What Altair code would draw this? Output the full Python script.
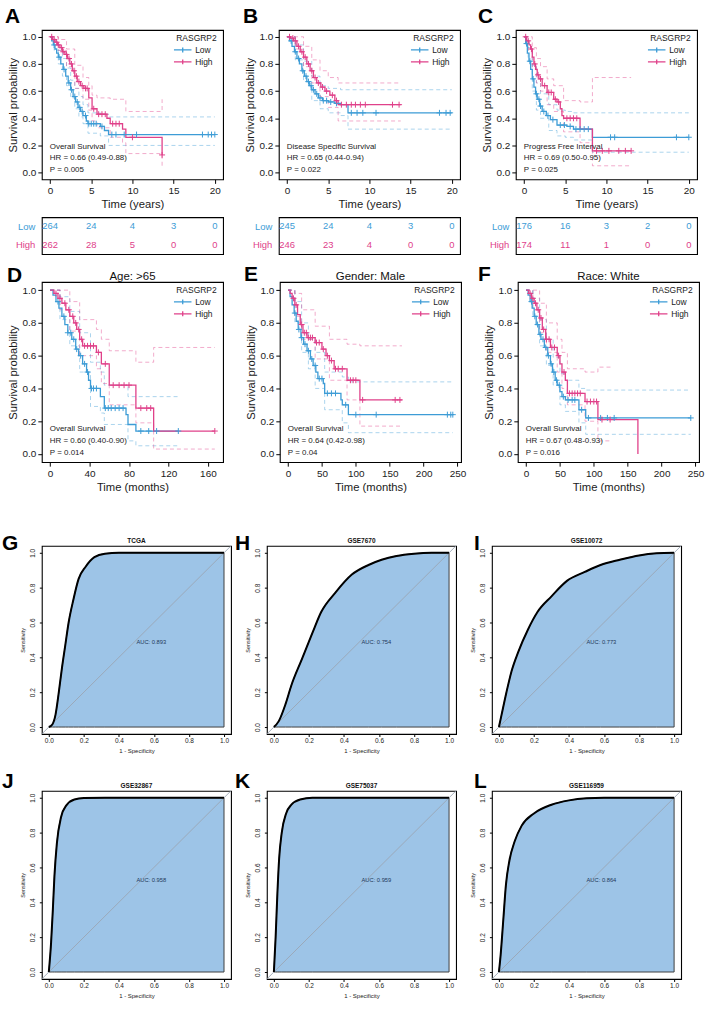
import altair as alt
import pandas as pd

FONT = "Liberation Sans"
LOW_COLOR = "#3D9CD6"
HIGH_COLOR = "#E0418A"
ROC_FILL = "#9DC4E7"
GROUPS = ["Low", "High"]
SURV_TICKS = [0.0, 0.2, 0.4, 0.6, 0.8, 1.0]
ROC_TICKS = [0.0, 0.2, 0.4, 0.6, 0.8, 1.0]
DIAG = [-0.04, 1.04]

# ---------------- Panel A : Overall Survival (years) ----------------
A_LOW = [(0, 1.0), (0.2, 0.97), (0.4, 0.94), (0.6, 0.91), (0.8, 0.88), (1.0, 0.85), (1.3, 0.80),
         (1.6, 0.76), (1.9, 0.71), (2.2, 0.66), (2.5, 0.61), (2.8, 0.56), (3.1, 0.52), (3.4, 0.48),
         (3.7, 0.45), (4.0, 0.42), (4.4, 0.38), (4.6, 0.36), (6.1, 0.34), (6.6, 0.31), (7.1, 0.28),
         (20.0, 0.28)]
A_HIGH = [(0, 1.0), (0.3, 0.98), (0.6, 0.96), (0.9, 0.94), (1.2, 0.92), (1.5, 0.89), (1.8, 0.87),
          (2.1, 0.84), (2.4, 0.80), (2.7, 0.75), (3.0, 0.71), (3.3, 0.67), (3.7, 0.64), (4.1, 0.62),
          (4.7, 0.55), (5.1, 0.47), (5.7, 0.43), (6.9, 0.40), (7.3, 0.36), (8.8, 0.32), (9.2, 0.26),
          (13.6, 0.13)]
A_LOW_CENS = [0.5, 1.1, 1.7, 2.3, 2.6, 3.0, 3.3, 3.6, 3.9, 4.3, 4.7, 5.0, 5.3, 5.6, 6.3, 7.5, 8.0,
              9.0, 10.5, 18.5, 19.2, 19.6, 20.0]
A_HIGH_CENS = [0.2, 0.5, 0.8, 1.0, 1.4, 1.6, 2.0, 2.3, 2.6, 2.9, 3.2, 3.5, 3.9, 4.3, 4.5, 5.3, 5.9,
               6.3, 6.7, 7.6, 8.0, 8.4, 10.0, 13.6]
A_LOW_UP = [(0, 1.0), (0.5, 0.97), (1, 0.90), (1.5, 0.84), (2, 0.77), (2.5, 0.68), (3, 0.62),
            (3.5, 0.56), (4, 0.50), (4.6, 0.44), (6.1, 0.43), (7.1, 0.41), (20, 0.41)]
A_LOW_LO = [(0, 1.0), (0.5, 0.90), (1, 0.80), (1.5, 0.71), (2, 0.64), (2.5, 0.55), (3, 0.47),
            (3.5, 0.41), (4, 0.36), (4.6, 0.29), (6.1, 0.27), (7.1, 0.20), (20, 0.20)]
A_HIGH_UP = [(0, 1.0), (1, 0.98), (2, 0.91), (3, 0.79), (4, 0.70), (4.7, 0.64), (5.1, 0.57),
             (5.7, 0.55), (7.3, 0.54), (9.2, 0.45), (13.6, 0.54)]
A_HIGH_LO = [(0, 1.0), (1, 0.90), (2, 0.78), (3, 0.62), (4, 0.54), (4.7, 0.46), (5.1, 0.38),
             (5.7, 0.33), (7.3, 0.26), (8.8, 0.22), (9.2, 0.14), (13.6, 0.03)]
A_RISK_LOW = [264, 24, 4, 3, 0]
A_RISK_HIGH = [262, 28, 5, 0, 0]
A_TEXT = ["Overall Survival", "HR = 0.66 (0.49-0.88)", "P = 0.005"]

# ---------------- Panel B : Disease Specific Survival (years) ----------------
B_LOW = [(0, 1.0), (0.3, 0.97), (0.6, 0.93), (0.9, 0.89), (1.2, 0.84), (1.5, 0.80), (1.8, 0.75),
         (2.1, 0.71), (2.4, 0.67), (2.7, 0.64), (3.0, 0.61), (3.4, 0.58), (3.8, 0.55), (4.3, 0.53),
         (5.0, 0.52), (5.8, 0.51), (6.5, 0.50), (7.4, 0.44), (20.0, 0.44)]
B_HIGH = [(0, 1.0), (0.4, 0.99), (0.8, 0.97), (1.2, 0.93), (1.6, 0.89), (2.0, 0.85), (2.4, 0.80),
          (2.8, 0.75), (3.2, 0.70), (3.6, 0.66), (4.1, 0.63), (4.6, 0.60), (5.2, 0.57), (5.8, 0.53),
          (6.2, 0.50), (13.8, 0.50)]
B_LOW_CENS = [0.5, 1.0, 1.4, 1.9, 2.3, 2.6, 2.9, 3.2, 3.6, 4.0, 4.4, 4.8, 5.3, 6.0, 7.8, 8.5, 9.2,
              10.8, 18.5, 19.3, 19.8]
B_HIGH_CENS = [0.3, 0.7, 1.0, 1.4, 1.8, 2.2, 2.6, 3.0, 3.4, 3.8, 4.3, 4.8, 5.5, 6.0, 6.6, 7.2, 7.8,
               8.3, 8.9, 9.5, 12.8, 13.6]
B_LOW_UP = [(0, 1.0), (1, 0.94), (2, 0.82), (3, 0.71), (4, 0.64), (5, 0.62), (6.5, 0.61), (20, 0.61)]
B_LOW_LO = [(0, 1.0), (1, 0.83), (2, 0.67), (3, 0.53), (4, 0.47), (5, 0.44), (6.5, 0.42),
            (7.4, 0.32), (20, 0.32)]
B_HIGH_UP = [(0, 1.0), (1, 1.0), (2, 0.93), (3, 0.83), (4, 0.75), (5, 0.70), (6.2, 0.66), (13.8, 0.66)]
B_HIGH_LO = [(0, 1.0), (1, 0.91), (2, 0.78), (3, 0.66), (4, 0.56), (5, 0.48), (6.2, 0.38), (13.8, 0.38)]
B_RISK_LOW = [245, 24, 4, 3, 0]
B_RISK_HIGH = [246, 23, 4, 0, 0]
B_TEXT = ["Disease Specific Survival", "HR = 0.65 (0.44-0.94)", "P = 0.022"]

# ---------------- Panel C : Progress Free Interval (years) ----------------
C_LOW = [(0, 1.0), (0.2, 0.95), (0.4, 0.88), (0.6, 0.82), (0.8, 0.76), (1.0, 0.69), (1.2, 0.63),
         (1.4, 0.58), (1.6, 0.54), (1.9, 0.49), (2.2, 0.45), (2.7, 0.42), (3.2, 0.39), (4.0, 0.35),
         (5.2, 0.34), (6.0, 0.32), (8.3, 0.26), (20.0, 0.26)]
C_HIGH = [(0, 1.0), (0.3, 0.97), (0.6, 0.94), (0.8, 0.91), (1.0, 0.85), (1.2, 0.80), (1.4, 0.76),
          (1.6, 0.72), (1.8, 0.69), (2.2, 0.64), (2.8, 0.59), (3.6, 0.54), (4.0, 0.52), (4.4, 0.47),
          (4.6, 0.42), (4.8, 0.40), (6.8, 0.32), (8.3, 0.16), (13.0, 0.16)]
C_LOW_CENS = [0.3, 0.7, 1.1, 1.5, 1.8, 2.0, 2.4, 2.9, 3.5, 4.4, 4.9, 5.6, 6.3, 6.8, 7.3, 7.8, 10.5,
              11.0, 18.5, 20.0]
C_HIGH_CENS = [0.2, 0.5, 0.9, 1.3, 1.7, 2.0, 2.5, 3.0, 3.3, 3.8, 4.2, 5.2, 5.6, 6.0, 6.4, 8.8, 9.5,
               10.3, 11.5, 12.3, 13.0]
C_LOW_UP = [(0, 1.0), (0.5, 0.92), (1, 0.79), (1.5, 0.66), (2, 0.58), (3, 0.50), (4, 0.46),
            (5, 0.45), (6, 0.44), (20, 0.44)]
C_LOW_LO = [(0, 1.0), (0.5, 0.82), (1, 0.60), (1.5, 0.46), (2, 0.40), (3, 0.31), (4, 0.27),
            (5, 0.26), (6, 0.24), (8.3, 0.15), (20, 0.15)]
C_HIGH_UP = [(0, 1.0), (0.5, 1.0), (1, 0.92), (1.5, 0.84), (2, 0.78), (2.8, 0.69), (3.6, 0.64),
             (4.8, 0.53), (6.8, 0.52), (8.3, 0.70), (13, 0.70)]
C_HIGH_LO = [(0, 1.0), (0.5, 0.90), (1, 0.78), (1.5, 0.66), (2, 0.60), (2.8, 0.50), (3.6, 0.45),
             (4.8, 0.30), (6.8, 0.22), (8.3, 0.05), (13, 0.05)]
C_RISK_LOW = [176, 16, 3, 2, 0]
C_RISK_HIGH = [174, 11, 1, 0, 0]
C_TEXT = ["Progress Free Interval", "HR = 0.69 (0.50-0.95)", "P = 0.025"]

RISK_TIMES = [0, 5, 10, 15, 20]

# ---------------- Panel D : Age > 65 (months) ----------------
D_LOW = [(0, 1.0), (3, 0.97), (6, 0.93), (9, 0.89), (12, 0.84), (15, 0.79), (18, 0.74), (22, 0.70),
         (26, 0.64), (29, 0.60), (33, 0.55), (37, 0.50), (39, 0.45), (41, 0.40), (51, 0.35),
         (55, 0.28), (77, 0.24), (79, 0.18), (87, 0.14), (130, 0.14)]
D_HIGH = [(0, 1.0), (4, 0.98), (8, 0.95), (12, 0.92), (16, 0.88), (20, 0.84), (24, 0.80),
          (27, 0.76), (30, 0.70), (33, 0.66), (47, 0.62), (52, 0.55), (60, 0.42), (87, 0.28),
          (105, 0.14), (167, 0.14)]
D_LOW_CENS = [8, 14, 18, 21, 24, 27, 31, 35, 38, 42, 44, 47, 56, 59, 62, 66, 70, 74, 92, 100, 108, 130]
D_HIGH_CENS = [6, 10, 15, 19, 23, 26, 29, 32, 35, 38, 41, 44, 49, 56, 64, 70, 75, 80, 92, 98, 102, 167]
D_LOW_UP = [(0, 1.0), (10, 0.96), (20, 0.87), (30, 0.74), (41, 0.56), (51, 0.50), (55, 0.42),
            (79, 0.35), (130, 0.35)]
D_LOW_LO = [(0, 1.0), (10, 0.82), (20, 0.66), (30, 0.50), (41, 0.29), (51, 0.25), (55, 0.18),
            (79, 0.08), (87, 0.05), (130, 0.05)]
D_HIGH_UP = [(0, 1.0), (10, 1.0), (20, 0.93), (30, 0.82), (47, 0.76), (52, 0.70), (60, 0.63),
             (87, 0.56), (105, 0.65), (167, 0.65)]
D_HIGH_LO = [(0, 1.0), (10, 0.88), (20, 0.75), (30, 0.60), (47, 0.52), (52, 0.43), (60, 0.30),
             (87, 0.19), (105, 0.03), (167, 0.03)]
D_TEXT = ["Overall Survival", "HR = 0.60 (0.40-0.90)", "P = 0.014"]

# ---------------- Panel E : Gender Male (months) ----------------
E_LOW = [(0, 1.0), (3, 0.96), (6, 0.91), (9, 0.86), (12, 0.81), (15, 0.76), (19, 0.71), (23, 0.67),
         (28, 0.63), (33, 0.58), (37, 0.54), (41, 0.50), (44, 0.46), (52, 0.43), (54, 0.37),
         (78, 0.33), (80, 0.30), (89, 0.24), (243, 0.24)]
E_HIGH = [(0, 1.0), (3, 0.98), (6, 0.95), (10, 0.91), (14, 0.85), (18, 0.79), (22, 0.74),
          (28, 0.71), (40, 0.68), (50, 0.64), (56, 0.60), (61, 0.57), (68, 0.52), (87, 0.45),
          (106, 0.33), (168, 0.33)]
E_LOW_CENS = [10, 16, 20, 25, 30, 35, 40, 46, 50, 58, 64, 70, 85, 100, 130, 235, 240, 243]
E_HIGH_CENS = [8, 12, 20, 24, 27, 30, 33, 36, 42, 46, 52, 58, 64, 70, 74, 80, 92, 96, 100, 110, 158, 165]
E_LOW_UP = [(0, 1.0), (10, 0.93), (20, 0.80), (30, 0.70), (40, 0.62), (54, 0.50), (80, 0.47),
            (89, 0.44), (243, 0.44)]
E_LOW_LO = [(0, 1.0), (10, 0.80), (20, 0.62), (30, 0.52), (40, 0.40), (54, 0.27), (80, 0.19),
            (89, 0.13), (243, 0.13)]
E_HIGH_UP = [(0, 1.0), (10, 0.98), (20, 0.88), (40, 0.78), (61, 0.70), (87, 0.67), (106, 0.66),
             (168, 0.66)]
E_HIGH_LO = [(0, 1.0), (10, 0.84), (20, 0.70), (40, 0.58), (61, 0.45), (87, 0.33), (106, 0.17),
             (168, 0.17)]
E_TEXT = ["Overall Survival", "HR = 0.64 (0.42-0.98)", "P = 0.04"]

# ---------------- Panel F : Race White (months) ----------------
F_LOW = [(0, 1.0), (3, 0.97), (6, 0.93), (9, 0.89), (12, 0.84), (15, 0.79), (19, 0.73), (22, 0.70),
         (27, 0.65), (32, 0.60), (36, 0.55), (39, 0.50), (43, 0.45), (46, 0.42), (50, 0.38),
         (53, 0.35), (58, 0.33), (78, 0.27), (88, 0.22), (243, 0.22)]
F_HIGH = [(0, 1.0), (4, 0.98), (8, 0.95), (12, 0.92), (16, 0.88), (20, 0.83), (24, 0.76),
          (29, 0.70), (36, 0.65), (46, 0.60), (50, 0.55), (53, 0.50), (58, 0.45), (61, 0.37),
          (87, 0.32), (106, 0.21), (165, 0.0)]
F_LOW_CENS = [8, 13, 17, 21, 25, 29, 33, 37, 41, 45, 49, 55, 62, 68, 72, 82, 92, 110, 120, 130, 243]
F_HIGH_CENS = [6, 10, 14, 18, 22, 26, 30, 34, 38, 42, 48, 56, 64, 68, 72, 76, 80, 90, 95, 100, 104,
               112, 124]
F_LOW_UP = [(0, 1.0), (10, 0.95), (20, 0.82), (30, 0.70), (40, 0.59), (50, 0.49), (58, 0.45),
            (78, 0.40), (88, 0.39), (243, 0.39)]
F_LOW_LO = [(0, 1.0), (10, 0.84), (20, 0.66), (30, 0.54), (40, 0.42), (50, 0.30), (58, 0.26),
            (78, 0.19), (88, 0.12), (243, 0.12)]
F_HIGH_UP = [(0, 1.0), (10, 1.0), (20, 0.92), (30, 0.80), (46, 0.70), (53, 0.62), (61, 0.52),
             (87, 0.50), (106, 0.53), (125, 0.53)]
F_HIGH_LO = [(0, 1.0), (10, 0.88), (20, 0.74), (30, 0.62), (46, 0.50), (53, 0.40), (61, 0.30),
             (87, 0.20), (106, 0.08), (125, 0.08)]
F_TEXT = ["Overall Survival", "HR = 0.67 (0.48-0.93)", "P = 0.016"]

# ---------------- ROC curves (1 - specificity, sensitivity) ----------------
G_PTS = [(0, 0), (0.02, 0.015), (0.038, 0.07), (0.057, 0.2), (0.075, 0.34), (0.094, 0.47),
         (0.113, 0.6), (0.14, 0.73), (0.17, 0.85), (0.21, 0.92), (0.26, 0.975), (0.32, 0.995),
         (0.4, 1.0), (1.0, 1.0)]
H_PTS = [(0, 0), (0.028, 0.034), (0.066, 0.13), (0.10, 0.24), (0.16, 0.39), (0.22, 0.54),
         (0.27, 0.66), (0.35, 0.77), (0.445, 0.875), (0.54, 0.93), (0.615, 0.96), (0.7, 0.982),
         (0.8, 0.995), (0.9, 1.0), (1.0, 1.0)]
I_PTS = [(0, 0), (0.015, 0.07), (0.043, 0.2), (0.072, 0.32), (0.11, 0.43), (0.166, 0.56),
         (0.22, 0.66), (0.3, 0.75), (0.39, 0.84), (0.49, 0.89), (0.58, 0.93), (0.69, 0.96),
         (0.8, 0.985), (0.9, 0.997), (1.0, 1.0)]
J_PTS = [(0, 0), (0.013, 0.17), (0.023, 0.36), (0.032, 0.55), (0.046, 0.74), (0.07, 0.89),
         (0.1, 0.956), (0.146, 0.99), (0.2, 0.998), (0.32, 1.0), (1.0, 1.0)]
K_PTS = [(0, 0), (0.01, 0.2), (0.02, 0.45), (0.03, 0.65), (0.045, 0.8), (0.07, 0.91), (0.1, 0.96),
         (0.15, 0.99), (0.22, 1.0), (1.0, 1.0)]
L_PTS = [(0, 0), (0.01, 0.1), (0.025, 0.3), (0.04, 0.5), (0.06, 0.64), (0.09, 0.75), (0.13, 0.84),
         (0.2, 0.91), (0.3, 0.96), (0.4, 0.985), (0.5, 0.997), (0.6, 1.0), (1.0, 1.0)]
ROC_TITLES = ["TCGA", "GSE7670", "GSE10072", "GSE32867", "GSE75037", "GSE116959"]
ROC_AUC = ["0.893", "0.754", "0.773", "0.958", "0.959", "0.864"]


def step_value(curve, t):
    s = curve[0][1]
    for tt, ss in curve:
        if tt <= t:
            s = ss
        else:
            break
    return s


COLOR_SCALE = alt.Scale(domain=GROUPS, range=[LOW_COLOR, HIGH_COLOR])


def label_layer(text, x, y, size, weight="bold", align="left", color="black"):
    return alt.Chart(pd.DataFrame({"k": [0]})).mark_text(
        text=text, align=align, baseline="alphabetic", fontSize=size, fontWeight=weight,
        color=color).encode(x=alt.value(x), y=alt.value(y))


def km_chart(low, high, lcens, hcens, cis, text, letter, lpos, xdom, xticks, xtitle, height,
             title=None, width=182):
    xs = alt.Scale(domain=xdom, nice=False, zero=False)
    ys = alt.Scale(domain=[-0.05, 1.05], nice=False, zero=False)
    X = alt.X("t:Q", scale=xs, axis=alt.Axis(values=xticks, title=xtitle, labelFontSize=10,
                                              titleFontSize=11.3, tickSize=4, labelPadding=2,
                                              titlePadding=3))
    Y = alt.Y("s:Q", scale=ys, axis=alt.Axis(values=SURV_TICKS, format=".1f",
                                              title="Survival probability", labelFontSize=10,
                                              titleFontSize=11.3, tickSize=4, labelPadding=2,
                                              titlePadding=4))
    curves = pd.DataFrame([{"t": t, "s": s, "grp": "Low"} for t, s in low] +
                          [{"t": t, "s": s, "grp": "High"} for t, s in high])
    ci_rows = []
    for (grp, band), pts in zip([("Low", "up"), ("Low", "lo"), ("High", "up"), ("High", "lo")], cis):
        ci_rows += [{"t": t, "s": s, "grp": grp, "band": band} for t, s in pts]
    ci = pd.DataFrame(ci_rows)
    cens = pd.DataFrame([{"t": t, "s": step_value(low, t), "grp": "Low"} for t in lcens] +
                        [{"t": t, "s": step_value(high, t), "grp": "High"} for t in hcens])

    ci_layer = alt.Chart(ci).mark_line(interpolate="step-after", strokeDash=[4, 3],
                                       strokeWidth=0.8, opacity=0.55).encode(
        x=X, y=Y, color=alt.Color("grp:N", scale=COLOR_SCALE, legend=None), detail="band:N")
    line_layer = alt.Chart(curves).mark_line(interpolate="step-after", strokeWidth=1.3).encode(
        x=X, y=Y,
        color=alt.Color("grp:N", scale=COLOR_SCALE, sort=GROUPS,
                        legend=alt.Legend(title="RASGRP2", orient="none", legendX=width - 47,
                                          legendY=4, titleFontSize=8.5, titleFontWeight="normal",
                                          labelFontSize=8.5, symbolType="M-1.6,0H1.6M0,-0.45V0.45",
                                          symbolSize=121, symbolStrokeWidth=1.3,
                                          symbolFillColor="transparent", labelOffset=6,
                                          rowPadding=0, titlePadding=1, padding=0,
                                          titleColor="#222", labelColor="#222")))
    cens_layer = alt.Chart(cens).mark_point(shape="M-1,0H1M0,-1V1", size=36, strokeWidth=1,
                                            filled=False, opacity=1).encode(
        x=X, y=Y, color=alt.Color("grp:N", scale=COLOR_SCALE, legend=None))
    ann = alt.Chart(pd.DataFrame({"k": [0]})).mark_text(
        text=text, align="left", baseline="top", fontSize=8, lineHeight=11.8, color="#222").encode(
        x=alt.value(8), y=alt.value(height - 37))
    layers = [ci_layer, line_layer, cens_layer, ann,
              label_layer(letter, lpos[0], lpos[1], 21)]
    if title:
        layers.append(label_layer(title, width / 2, -2, 11.5, weight="normal", align="center",
                                  color="#111"))
    return alt.layer(*layers).resolve_legend(color="independent").properties(width=width,
                                                                              height=height)


def risk_chart(low_counts, high_counts, xdom, width=182):
    xs = alt.Scale(domain=xdom, nice=False, zero=False)
    df = pd.DataFrame([{"t": t, "grp": "Low", "n": n} for t, n in zip(RISK_TIMES, low_counts)] +
                      [{"t": t, "grp": "High", "n": n} for t, n in zip(RISK_TIMES, high_counts)])
    return alt.Chart(df).mark_text(fontSize=9.5).encode(
        x=alt.X("t:Q", scale=xs, axis=None),
        y=alt.Y("grp:N", sort=GROUPS, scale=alt.Scale(domain=GROUPS),
                axis=alt.Axis(title=None, ticks=False, domain=False, labelFontSize=9.5,
                              labelPadding=7,
                              labelColor={"expr": f"datum.value === 'Low' ? '{LOW_COLOR}' : '{HIGH_COLOR}'"})),
        text="n:Q",
        color=alt.Color("grp:N", scale=COLOR_SCALE, legend=None),
    ).properties(width=width, height=37)


def roc_chart(pts, title, auc, letter, lpos, auc_y, width=190, height=189):
    xs = alt.Scale(domain=DIAG, nice=False, zero=False)
    ys = alt.Scale(domain=DIAG, nice=False, zero=False)
    X = alt.X("fpr:Q", scale=xs, axis=alt.Axis(values=ROC_TICKS, format=".1f",
                                                title="1 - Specificity", labelFontSize=6.5,
                                                titleFontSize=6, tickSize=2.5, labelPadding=1,
                                                titlePadding=4))
    Y = alt.Y("tpr:Q", scale=ys, axis=alt.Axis(values=ROC_TICKS, format=".1f", title="Sensitivity",
                                                labelAngle=-90, labelFontSize=6.5, titleFontSize=5.5,
                                                tickSize=2.5, labelPadding=4, titlePadding=4))
    df = pd.DataFrame(pts, columns=["fpr", "tpr"])
    diag = pd.DataFrame({"fpr": DIAG, "tpr": DIAG})
    area = alt.Chart(df).mark_area(fill=ROC_FILL, stroke="#404040", strokeWidth=1,
                                   interpolate="monotone").encode(x=X, y=Y, y2=alt.datum(0))
    dl = alt.Chart(diag).mark_line(color="#9AA6B4", strokeWidth=0.9).encode(x=X, y=Y)
    curve = alt.Chart(df).mark_line(color="black", strokeWidth=2,
                                    interpolate="monotone").encode(x=X, y=Y)
    txt = alt.Chart(pd.DataFrame({"fpr": [0.5], "tpr": [auc_y], "label": ["AUC: " + auc]})).mark_text(
        align="left", baseline="middle", fontSize=5.8, color="#22395A").encode(x=X, y=Y, text="label:N")
    return alt.layer(area, dl, curve, txt,
                     label_layer(letter, lpos[0], lpos[1], 21),
                     label_layer(title, width / 2, -2.5, 6.5, align="center", color="#111")
                     ).properties(width=width, height=height)


YEARS = [-1, 21]
YEAR_TICKS = [0, 5, 10, 15, 20]
H1 = 150
kmA = km_chart(A_LOW, A_HIGH, A_LOW_CENS, A_HIGH_CENS, [A_LOW_UP, A_LOW_LO, A_HIGH_UP, A_HIGH_LO],
               A_TEXT, "A", (-37, -7), YEARS, YEAR_TICKS, "Time (years)", H1)
kmB = km_chart(B_LOW, B_HIGH, B_LOW_CENS, B_HIGH_CENS, [B_LOW_UP, B_LOW_LO, B_HIGH_UP, B_HIGH_LO],
               B_TEXT, "B", (-36, -7), YEARS, YEAR_TICKS, "Time (years)", H1)
kmC = km_chart(C_LOW, C_HIGH, C_LOW_CENS, C_HIGH_CENS, [C_LOW_UP, C_LOW_LO, C_HIGH_UP, C_HIGH_LO],
               C_TEXT, "C", (-38, -7), YEARS, YEAR_TICKS, "Time (years)", H1)
row1 = alt.concat(kmA, kmB, kmC,
                  risk_chart(A_RISK_LOW, A_RISK_HIGH, YEARS),
                  risk_chart(B_RISK_LOW, B_RISK_HIGH, YEARS),
                  risk_chart(C_RISK_LOW, C_RISK_HIGH, YEARS),
                  columns=3, bounds="flush", spacing={"row": 38, "column": 56})

H2 = 181
kmD = km_chart(D_LOW, D_HIGH, D_LOW_CENS, D_HIGH_CENS, [D_LOW_UP, D_LOW_LO, D_HIGH_UP, D_HIGH_LO],
               D_TEXT, "D", (-35, 0), [-8.35, 175.35], [0, 40, 80, 120, 160], "Time (months)", H2,
               title="Age: >65")
kmE = km_chart(E_LOW, E_HIGH, E_LOW_CENS, E_HIGH_CENS, [E_LOW_UP, E_LOW_LO, E_HIGH_UP, E_HIGH_LO],
               E_TEXT, "E", (-36, -1), [-12.15, 255.15], [0, 50, 100, 150, 200, 250], "Time (months)",
               H2, title="Gender: Male")
kmF = km_chart(F_LOW, F_HIGH, F_LOW_CENS, F_HIGH_CENS, [F_LOW_UP, F_LOW_LO, F_HIGH_UP, F_HIGH_LO],
               F_TEXT, "F", (-40, -1), [-12.15, 255.15], [0, 50, 100, 150, 200, 250], "Time (months)",
               H2, title="Race: White")
row2 = alt.hconcat(kmD, kmE, kmF, bounds="flush", spacing=57)

row3 = alt.hconcat(
    roc_chart(G_PTS, ROC_TITLES[0], ROC_AUC[0], "G", (-40, 4), 0.49),
    roc_chart(H_PTS, ROC_TITLES[1], ROC_AUC[1], "H", (-32, 4), 0.49),
    roc_chart(I_PTS, ROC_TITLES[2], ROC_AUC[2], "I", (-18, 4), 0.49),
    bounds="flush", spacing=36)
row4 = alt.hconcat(
    roc_chart(J_PTS, ROC_TITLES[3], ROC_AUC[3], "J", (-40, -3), 0.53),
    roc_chart(K_PTS, ROC_TITLES[4], ROC_AUC[4], "K", (-32, -3), 0.53),
    roc_chart(L_PTS, ROC_TITLES[5], ROC_AUC[5], "L", (-18, -3), 0.53),
    bounds="flush", spacing=36)

top_block = alt.vconcat(row1, row2, spacing=8)
bottom_block = alt.vconcat(row3, row4, spacing=15)
chart = alt.vconcat(top_block, bottom_block, spacing=39).properties(
    padding={"left": 1, "top": 3, "right": 2, "bottom": 2}, background="white"
).configure(font=FONT).configure_view(stroke="black", strokeWidth=1.1).configure_axis(
    grid=False, domain=False, tickColor="black", labelColor="#1a1a1a", titleColor="#1a1a1a",
    titleFontWeight="normal", labelFont=FONT, titleFont=FONT
).configure_title(font=FONT, color="#111").configure_legend(
    labelFont=FONT, titleFont=FONT).configure_text(font=FONT)

chart.save("out.html", embed_options={"renderer": "svg", "actions": False})
